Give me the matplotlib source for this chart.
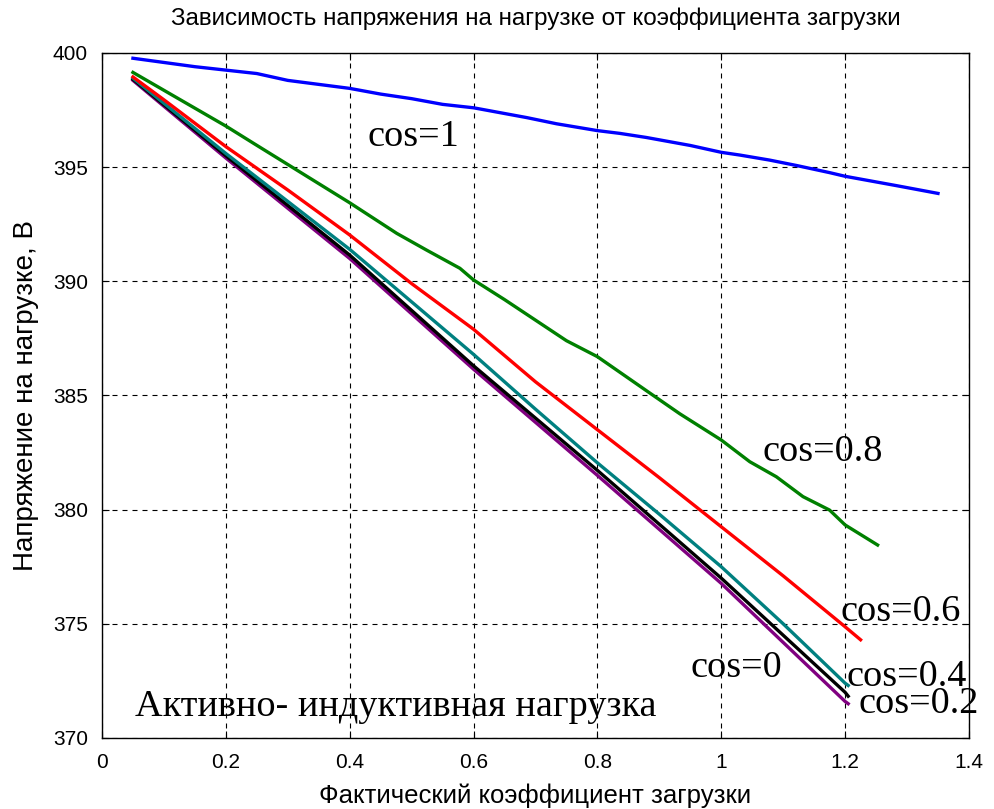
import matplotlib
matplotlib.use("Agg")
import matplotlib.pyplot as plt

# load factor vs. load voltage for several power factors
x_c10 = [0.05, 0.15, 0.25, 0.3, 0.4, 0.45, 0.5, 0.55, 0.6, 0.686, 0.734, 0.8,
         0.836, 0.879, 0.95, 1.0, 1.03, 1.078, 1.122, 1.175, 1.2, 1.283, 1.35]
u_c10 = [399.77, 399.4, 399.1, 398.8, 398.45, 398.2, 398.0, 397.75, 397.6, 397.17,
         396.9, 396.6, 396.48, 396.3, 395.95, 395.65, 395.53, 395.31, 395.07, 394.76,
         394.6, 394.19, 393.85]

x_c08 = [0.05, 0.2, 0.245, 0.4, 0.476, 0.524, 0.578, 0.6, 0.65, 0.75, 0.8,
         0.885, 0.933, 1.0, 1.046, 1.089, 1.132, 1.175, 1.2, 1.2525]
u_c08 = [399.15, 396.8, 396.04, 393.44, 392.1, 391.37, 390.57, 390.06, 389.2,
         387.4, 386.7, 385.1, 384.2, 383.05, 382.1, 381.44, 380.57, 379.98, 379.33,
         378.45]

x_c06 = [0.05, 0.1, 0.2, 0.3, 0.4, 0.5, 0.6, 0.7, 0.8, 0.9, 1.0, 1.1, 1.2, 1.225]
u_c06 = [398.95, 397.95, 395.9, 394.0, 392.03, 389.9, 387.9, 385.6, 383.5, 381.4,
         379.25, 377.1, 374.87, 374.3]

x_c04 = [0.05, 0.2, 0.4, 0.5, 0.6, 0.7, 0.8, 0.9, 1.0, 1.1, 1.2, 1.205]
u_c04 = [398.9, 395.6, 391.4, 389.1, 386.8, 384.4, 382.05, 379.8, 377.5, 375.0,
         372.4, 372.3]

x_c00 = [0.05, 0.2, 0.4, 0.6, 0.8, 1.0, 1.2, 1.205]
u_c00 = [398.85, 395.5, 391.15, 386.3, 381.72, 377.0, 372.0, 371.83]

x_c02 = [0.05, 0.2, 0.4, 0.6, 0.8, 1.0, 1.2, 1.205]
u_c02 = [398.8, 395.4, 391.0, 386.15, 381.5, 376.77, 371.6, 371.5]

labels = ["cos=1", "cos=0.8", "cos=0.6", "cos=0", "cos=0.4", "cos=0.2"]
label_x = [0.428, 1.067, 1.192, 0.9505, 1.2024, 1.221]
label_y = [395.93, 382.13, 375.13, 372.68, 372.27, 371.08]

fig = plt.figure(figsize=(9.94, 8.09), dpi=100)
ax = fig.add_axes([0.1026, 0.0878, 0.8722, 0.8467])

lw = 2.4
ax.plot(x_c02, u_c02, color=(0.5, 0, 0.5), lw=lw)
ax.plot(x_c00, u_c00, color="black", lw=lw)
ax.plot(x_c04, u_c04, color=(0, 0.5, 0.5), lw=lw)
ax.plot(x_c06, u_c06, color=(1, 0, 0), lw=lw)
ax.plot(x_c08, u_c08, color=(0, 0.5, 0), lw=lw)
ax.plot(x_c10, u_c10, color=(0, 0, 1), lw=lw)

ax.set_xlim(0, 1.4)
ax.set_ylim(370, 400)
ax.set_xticks([0, 0.2, 0.4, 0.6, 0.8, 1.0, 1.2, 1.4])
ax.set_xticklabels(["0", "0.2", "0.4", "0.6", "0.8", "1", "1.2", "1.4"])
ax.set_yticks(range(370, 401, 5))

ax.grid(True, color="black", linestyle=(0, (4.5, 4.5)), linewidth=0.8)
ax.tick_params(direction="in", top=True, right=True, length=5, width=0.8,
               labelsize=15)
ax.tick_params(axis="x", pad=11)
ax.tick_params(axis="y", pad=10)
for sp in ax.spines.values():
    sp.set_linewidth(1.0)

serif = ["Liberation Serif", "DejaVu Serif"]
for t, tx, ty in zip(labels, label_x, label_y):
    ax.text(tx, ty, t, family=serif, fontsize=27.5, ha="left", va="baseline",
            clip_on=False)
ax.text(0.053, 370.96, "Активно- индуктивная нагрузка", family=serif,
        fontsize=27.5, ha="left", va="baseline")

sans = ["Liberation Sans", "DejaVu Sans"]
ax.set_title("Зависимость напряжения на нагрузке от коэффициента загрузки",
             family=sans, fontsize=17.5, pad=20)
ax.set_xlabel("Фактический коэффициент загрузки", family=sans, fontsize=18.5,
              labelpad=8)
ax.set_ylabel("Напряжение на нагрузке, В", family=sans, fontsize=20,
              labelpad=10)
for lab in ax.get_xticklabels() + ax.get_yticklabels():
    lab.set_family(sans)

fig.savefig("out.png", dpi=100)
